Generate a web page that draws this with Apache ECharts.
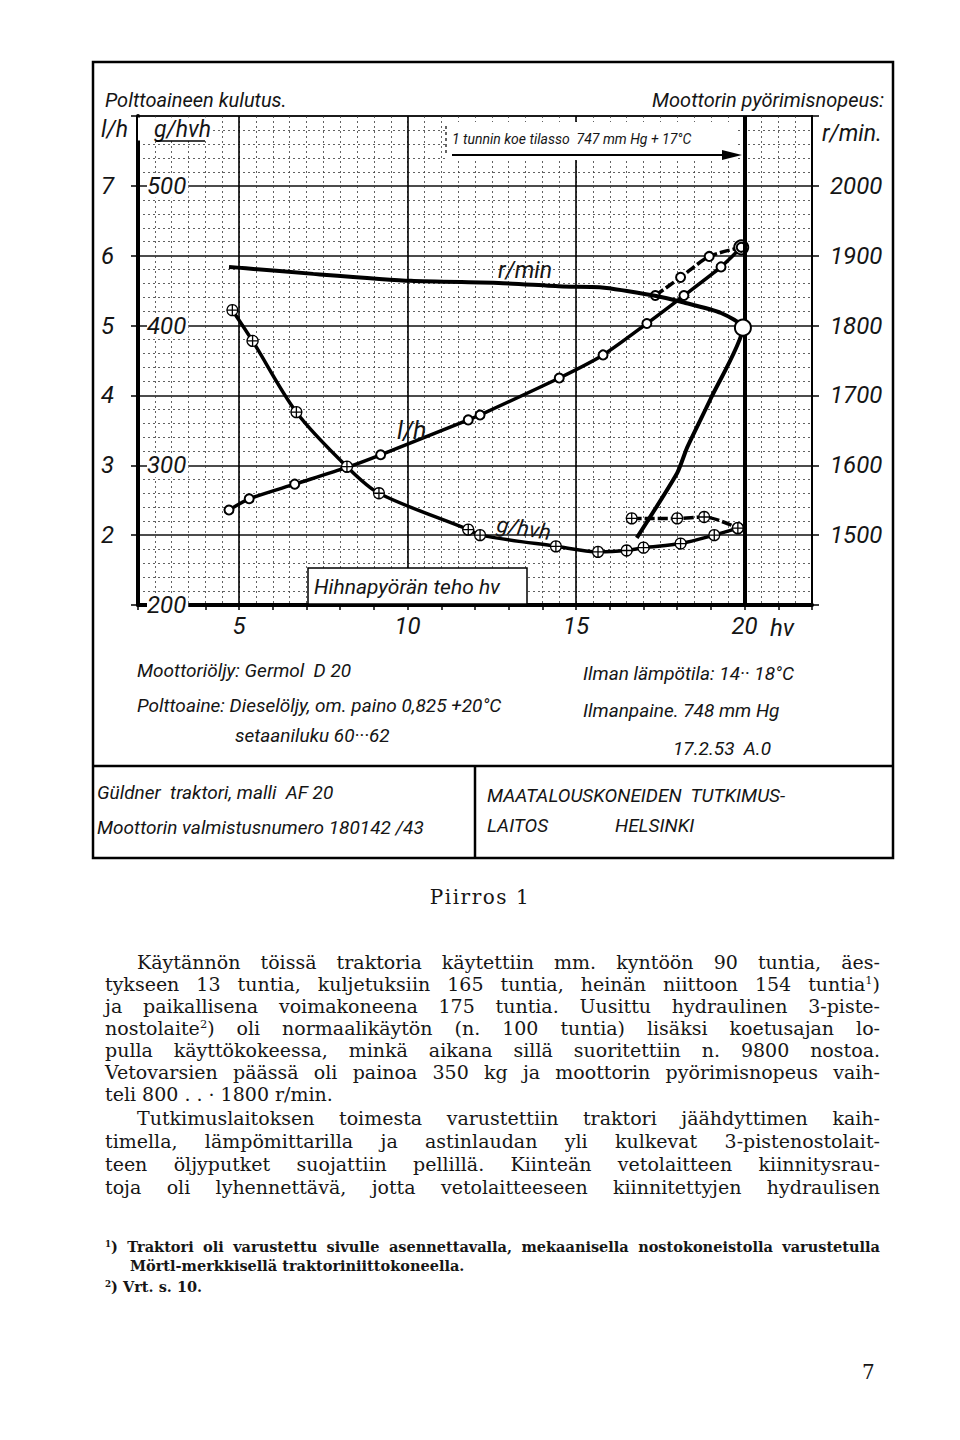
<!DOCTYPE html>
<html>
<head>
<meta charset="utf-8">
<title>Piirros 1</title>
<script src="https://cdn.jsdelivr.net/npm/echarts@6.0.0/dist/echarts.min.js"></script>
<style>
  html, body { margin: 0; padding: 0; background: #fff; }
  #page { position: relative; width: 960px; height: 1440px; overflow: hidden; background: #fff; }
  #chart { position: absolute; left: 0; top: 0; width: 960px; height: 900px; }
  .ln {
    position: absolute; left: 105px; width: 775px; height: 22px;
    font-family: "DejaVu Serif", serif; font-size: 19px; line-height: 22px;
    color: #161616; white-space: nowrap;
  }
  .ln span { white-space: nowrap; }
  .ln.ind { left: 137px; width: 743px; }
  .fn { font-size: 14.5px; line-height: 18px; height: 18px; font-weight: bold; }
  sup { font-size: 60%; line-height: 0; vertical-align: 0.6em; }
  .cap { position: absolute; left: 0; width: 960px; text-align: center; font-family: "DejaVu Serif", serif; font-size: 20px; letter-spacing: 1.5px; color: #161616; }
</style>
</head>
<body>
<div id="page">
  <div id="chart"></div>

  <div class="cap" style="top:885px;">Piirros 1</div>

  <div class="ln ind" style="top:951px;"><span>Käytännön töissä traktoria käytettiin mm. kyntöön 90 tuntia, äes-</span></div>
  <div class="ln" style="top:973px;"><span>tykseen 13 tuntia, kuljetuksiin 165 tuntia, heinän niittoon 154 tuntia<sup>1</sup>)</span></div>
  <div class="ln" style="top:995px;"><span>ja paikallisena voimakoneena 175 tuntia. Uusittu hydraulinen 3-piste-</span></div>
  <div class="ln" style="top:1017px;"><span>nostolaite<sup>2</sup>) oli normaalikäytön (n. 100 tuntia) lisäksi koetusajan lo-</span></div>
  <div class="ln" style="top:1039px;"><span>pulla käyttökokeessa, minkä aikana sillä suoritettiin n. 9800 nostoa.</span></div>
  <div class="ln" style="top:1061px;"><span>Vetovarsien päässä oli painoa 350 kg ja moottorin pyörimisnopeus vaih-</span></div>
  <div class="ln end" style="top:1083px;"><span>teli 800 . . · 1800 r/min.</span></div>
  <div class="ln ind" style="top:1107px;"><span>Tutkimuslaitoksen toimesta varustettiin traktori jäähdyttimen kaih-</span></div>
  <div class="ln" style="top:1130px;"><span>timella, lämpömittarilla ja astinlaudan yli kulkevat 3-pistenostolait-</span></div>
  <div class="ln" style="top:1153px;"><span>teen öljyputket suojattiin pellillä. Kiinteän vetolaitteen kiinnitysrau-</span></div>
  <div class="ln" style="top:1176px;"><span>toja oli lyhennettävä, jotta vetolaitteeseen kiinnitettyjen hydraulisen</span></div>

  <div class="ln fn" style="top:1238px;"><span><sup>1</sup>) Traktori oli varustettu sivulle asennettavalla, mekaanisella nostokoneistolla varustetulla</span></div>
  <div class="ln fn end" style="top:1257px; left:130px; width:750px;"><span>Mörtl-merkkisellä traktoriniittokoneella.</span></div>
  <div class="ln fn end" style="top:1278px;"><span><sup>2</sup>) Vrt. s. 10.</span></div>

  <div style="position:absolute; left:862px; top:1360px; font-family:'DejaVu Serif', serif; font-size:20px; color:#161616;">7</div>
</div>

<script>
// Moottorin pyörimisnopeus (r/min) hihnapyörän tehon (hv) mukaan
var rpmHv = [4.7, 5.2, 7.2, 10.1, 12.7, 14.6, 15.7, 17.3, 18.2, 19.3, 19.95, 19.0, 18.3, 18.0, 16.8];
var rpmValues = [1884, 1882, 1874, 1864, 1861, 1856, 1855, 1843, 1833, 1818, 1797, 1696, 1626, 1589, 1496];

// Polttoaineen kulutus l/h
var fuelHv = [4.7, 5.3, 6.65, 8.2, 9.2, 11.8, 12.15, 14.5, 15.8, 17.1, 18.2, 19.3, 19.9];
var fuelLh = [2.36, 2.52, 2.73, 2.97, 3.15, 3.65, 3.72, 4.25, 4.58, 5.03, 5.43, 5.84, 6.12];
var fuelOverHv = [17.35, 18.1, 18.95, 19.9];
var fuelOverLh = [5.43, 5.69, 5.99, 6.12];

// Ominaiskulutus g/hvh
var specHv = [4.8, 5.4, 6.7, 8.2, 9.15, 11.8, 12.15, 14.4, 15.65, 16.5, 17.0, 18.1, 19.1, 19.8];
var specG = [411, 389, 338, 299, 280, 254, 250, 242, 238, 239, 241, 244, 250, 255];
var specOverHv = [16.65, 18.0, 18.8, 19.8];
var specOverG = [262, 262, 263, 255];

// akselien merkinnät
var hvTickLabels = [5, 10, 15, 20];
var lhTickLabels = [2, 3, 4, 5, 6, 7];
var gTickLabels = [200, 300, 400, 500];
var rpmTickLabels = [1500, 1600, 1700, 1800, 1900, 2000];
var maxPowerHv = 20;

function pairs(xs, ys) {
  return xs.map(function (x, i) { return [x, ys[i]]; });
}

var ink = "#151515";
var hand = "Roboto, 'Open Sans', sans-serif";
var dotted = { color: "#3a3a3a", width: 0.8, type: [2, 3] };
var plusPath = "path://M10,1 A9,9 0 1,1 9.99,1 Z M10,1 L10,19 M1,10 L19,10";

function label(text, x, y, size, align, extra) {
  var el = {
    type: "text", x: x, y: y, z: 20,
    style: {
      text: text, fill: ink, fontSize: size, fontStyle: "italic", fontFamily: "Roboto",
      align: align || "left", verticalAlign: "middle",
      textAlign: align || "left", textVerticalAlign: "middle"
    }
  };
  if (extra) { Object.keys(extra).forEach(function (k) { el[k] = extra[k]; }); }
  return el;
}

function hline(x1, x2, y, w) {
  return { type: "line", z: 20, shape: { x1: x1, y1: y, x2: x2, y2: y }, style: { stroke: "#000", lineWidth: w || 2 } };
}
function vline(x, y1, y2, w) {
  return { type: "line", z: 20, shape: { x1: x, y1: y1, x2: x, y2: y2 }, style: { stroke: "#000", lineWidth: w || 2 } };
}

var dom = document.getElementById("chart");
var myChart = echarts.init(dom, null, { renderer: "svg" });

var option = {
  backgroundColor: "#fff",
  animation: false,
  grid: { left: 138, right: 148, top: 116, bottom: 295, show: true, borderColor: "#000", borderWidth: 1.5 },
  xAxis: {
    type: "value", min: 2, max: 22, interval: 1,
    name: "hv", nameLocation: "end", nameGap: -42,
    nameTextStyle: { color: ink, fontSize: 24, fontStyle: "italic", fontFamily: hand, align: "left", verticalAlign: "top", padding: [11, 0, 0, 0] },
    axisLine: { lineStyle: { color: "#000", width: 4 } },
    axisTick: { show: true, length: 5, lineStyle: { color: "#000", width: 1.5 } },
    axisLabel: {
      margin: 9, color: ink, fontSize: 24, fontStyle: "italic", fontFamily: hand,
      formatter: function (v) { return hvTickLabels.indexOf(v) >= 0 ? String(v) : ""; }
    },
    splitLine: { show: true, lineStyle: dotted },
    minorTick: { show: false, splitNumber: 2 },
    minorSplitLine: { show: true, lineStyle: dotted }
  },
  yAxis: [
    {
      type: "value", min: 1, max: 8, interval: 1, position: "left",
      name: "l/h", nameLocation: "end", nameGap: -13,
      nameTextStyle: { color: ink, fontSize: 23, fontStyle: "italic", fontFamily: hand, align: "right", verticalAlign: "middle", padding: [0, 10, 0, 0] },
      axisLine: { show: true, lineStyle: { color: "#000", width: 4 } },
      axisTick: { show: true, length: 7, lineStyle: { color: "#000", width: 1.5 } },
      axisLabel: {
        margin: 24, color: ink, fontSize: 24, fontStyle: "italic", fontFamily: hand,
        formatter: function (v) { return lhTickLabels.indexOf(Math.round(v * 100) / 100) >= 0 ? String(Math.round(v)) : ""; }
      },
      splitLine: { show: true, lineStyle: { color: "#111", width: 1.6 } },
      minorTick: { show: false, splitNumber: 5 },
      minorSplitLine: { show: true, lineStyle: dotted }
    },
    {
      type: "value", min: 200, max: 550, interval: 100, position: "left",
      name: "g/hvh", nameLocation: "end", nameGap: -13,
      nameTextStyle: { color: ink, fontSize: 23, fontStyle: "italic", fontFamily: hand, align: "left", verticalAlign: "middle", padding: [0, 0, 0, 16], backgroundColor: "#fff" },
      axisLine: { show: false },
      axisTick: { show: false },
      axisLabel: {
        inside: true, margin: 9, color: ink, fontSize: 24, fontStyle: "italic", fontFamily: hand,
        backgroundColor: "#fff", padding: [0, 2, 0, 0],
        formatter: function (v) { return gTickLabels.indexOf(v) >= 0 ? String(v) : ""; }
      },
      splitLine: { show: false }
    },
    {
      type: "value", min: 1400, max: 2100, interval: 100, position: "right",
      name: "r/min.", nameLocation: "end", nameGap: -17,
      nameTextStyle: { color: ink, fontSize: 23, fontStyle: "italic", fontFamily: hand, align: "left", verticalAlign: "middle", padding: [0, 0, 0, 10] },
      axisLine: { show: true, lineStyle: { color: "#000", width: 2 } },
      axisTick: { show: true, length: 7, lineStyle: { color: "#000", width: 1.5 } },
      axisLabel: {
        margin: 18, color: ink, fontSize: 24, fontStyle: "italic", fontFamily: hand,
        formatter: function (v) { return rpmTickLabels.indexOf(v) >= 0 ? String(v) : ""; }
      },
      splitLine: { show: false }
    }
  ],
  series: [
    {
      name: "l/h", type: "line", xAxisIndex: 0, yAxisIndex: 0, z: 4, smooth: 0.25,
      data: pairs(fuelHv, fuelLh),
      symbol: "emptyCircle",
      symbolSize: function (v, p) { return p.dataIndex === fuelHv.length - 1 ? 14 : 9; },
      itemStyle: { color: "#000", borderWidth: 1.5 },
      lineStyle: { color: "#000", width: 3.5 },
      markLine: {
        silent: true, symbol: ["none", "none"], label: { show: false },
        lineStyle: { color: "#000", width: 1.6, type: "solid" },
        data: hvTickLabels.map(function (v) { return { xAxis: v }; })
          .concat([{ xAxis: maxPowerHv, lineStyle: { color: "#000", width: 4, type: "solid" } }])
      }
    },
    {
      name: "l/h ylikuorma", type: "line", xAxisIndex: 0, yAxisIndex: 0, z: 4, smooth: 0.25,
      data: pairs(fuelOverHv, fuelOverLh),
      symbol: "emptyCircle", symbolSize: 9,
      itemStyle: { color: "#000", borderWidth: 1.5 },
      lineStyle: { color: "#000", width: 3.5, type: [10, 3] }
    },
    {
      name: "g/hvh", type: "line", xAxisIndex: 0, yAxisIndex: 1, z: 4, smooth: 0.3,
      data: pairs(specHv, specG),
      symbol: plusPath, symbolSize: 11,
      itemStyle: { color: "#fff", borderColor: "#000", borderWidth: 1.3 },
      lineStyle: { color: "#000", width: 3.5 }
    },
    {
      name: "g/hvh ylikuorma", type: "line", xAxisIndex: 0, yAxisIndex: 1, z: 4, smooth: 0.3,
      data: pairs(specOverHv, specOverG),
      symbol: plusPath, symbolSize: 11,
      itemStyle: { color: "#fff", borderColor: "#000", borderWidth: 1.3 },
      lineStyle: { color: "#000", width: 3.5, type: [10, 3] }
    },
    {
      name: "r/min", type: "line", xAxisIndex: 0, yAxisIndex: 2, z: 5, smooth: 0.2,
      data: pairs(rpmHv, rpmValues),
      symbol: function (v, p) { return p.dataIndex === 10 ? "emptyCircle" : "none"; },
      symbolSize: 16,
      itemStyle: { color: "#000", borderWidth: 1.8 },
      lineStyle: { color: "#000", width: 4 }
    }
  ],
  graphic: [
    // kehys
    { type: "rect", z: 19, shape: { x: 93, y: 62, width: 800, height: 796 }, style: { fill: null, stroke: "#000", lineWidth: 2.5 } },
    hline(93, 893, 766, 2.5),
    vline(475, 766, 858, 2.5),

    label("Polttoaineen kulutus.", 105, 100, 20),
    label("Moottorin pyörimisnopeus:", 884, 100, 20, "right"),

    // koeolosuhteet nuolen kanssa
    { type: "rect", z: 18, shape: { x: 446, y: 122, width: 292, height: 38 }, style: { fill: "#fff", stroke: null } },
    { type: "line", z: 20, shape: { x1: 446, y1: 126, x2: 446, y2: 156 }, style: { stroke: "#000", lineWidth: 1.2, lineDash: [3, 3] } },
    label("1 tunnin koe tilasso  747 mm Hg + 17°C", 452, 139, 14),
    { type: "line", z: 20, shape: { x1: 452, y1: 155, x2: 734, y2: 155 }, style: { stroke: "#000", lineWidth: 2 } },
    { type: "polygon", z: 20, shape: { points: [[722, 150], [742, 155], [722, 160]] }, style: { fill: "#000" } },

    // g/hvh alleviivaus
    hline(156, 205, 141, 1.6),

    // käyrien nimet
    label("r/min", 498, 270, 23),
    label("l/h", 397, 430, 25),
    label("g/hvh", 497, 524, 22, "left", { rotation: -0.16 }),

    // vaaka-akselin otsikko
    { type: "rect", z: 18, shape: { x: 308, y: 568, width: 219, height: 36 }, style: { fill: "#fff", stroke: "#000", lineWidth: 1.5 } },
    label("Hihnapyörän teho hv", 314, 587, 21),

    label("Moottoriöljy: Germol  D 20", 137, 670, 19),
    label("Polttoaine: Dieselöljy, om. paino 0,825 +20°C", 137, 705, 19),
    label("setaaniluku 60···62", 235, 735, 19),
    label("Ilman lämpötila: 14·· 18°C", 583, 673, 19),
    label("Ilmanpaine. 748 mm Hg", 583, 710, 19),
    label("17.2.53  A.0", 673, 748, 19),
    label("Güldner  traktori, malli  AF 20", 97, 792, 19),
    label("Moottorin valmistusnumero 180142 /43", 97, 827, 19),
    label("MAATALOUSKONEIDEN  TUTKIMUS-", 487, 795, 19),
    label("LAITOS", 487, 825, 19),
    label("HELSINKI", 615, 825, 19)
  ]
};

myChart.setOption(option);
window.addEventListener("resize", myChart.resize);

// tekstirivien tasaus: rivi venytetään sanavälejä säätämällä
document.querySelectorAll(".ln").forEach(function (row) {
  var span = row.querySelector("span");
  var target = row.clientWidth;
  var w = span.getBoundingClientRect().width;
  var gaps = (span.textContent.match(/ /g) || []).length;
  if (w > target) {
    var chars = span.textContent.length;
    span.style.letterSpacing = ((target - w) / chars) + "px";
  } else if (!row.classList.contains("end") && gaps > 0) {
    span.style.wordSpacing = ((target - w) / gaps) + "px";
  }
});
</script>
</body>
</html>
